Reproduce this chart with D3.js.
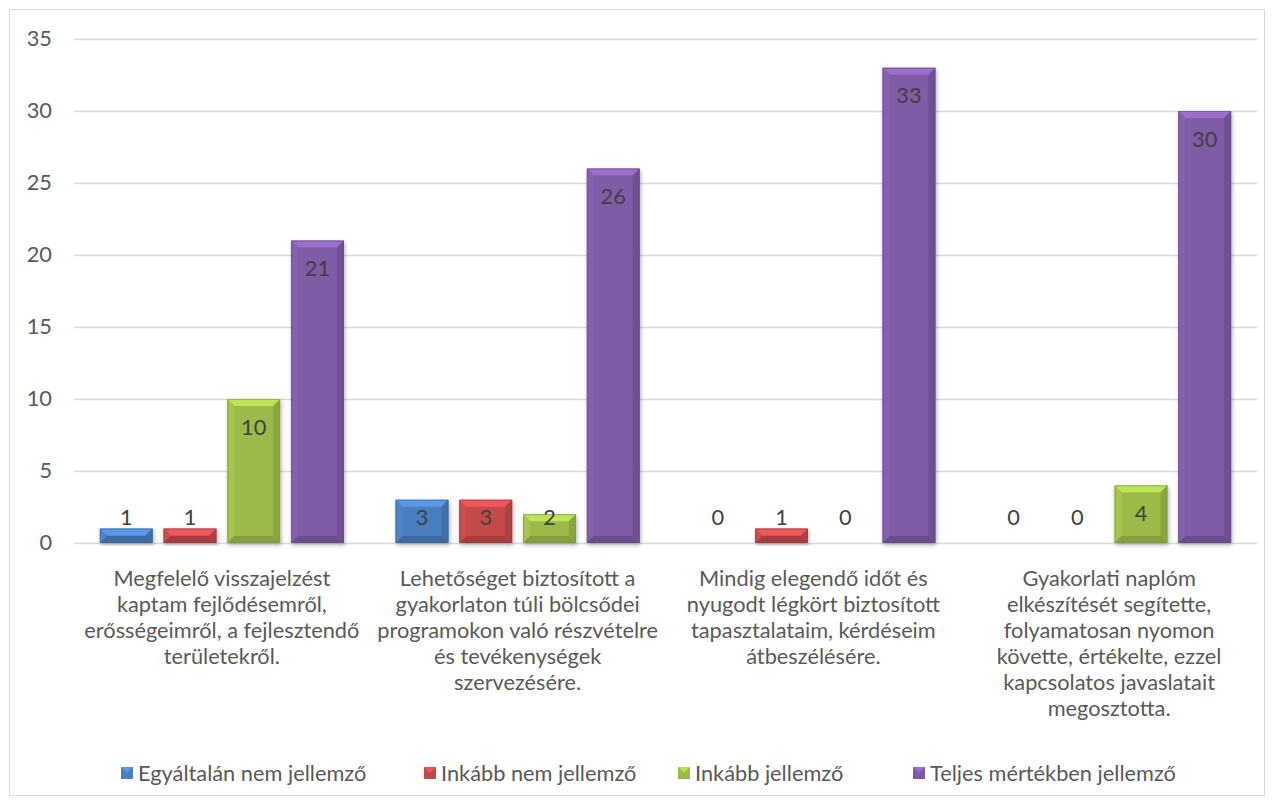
<!DOCTYPE html>
<html><head><meta charset="utf-8">
<script src="https://cdn.jsdelivr.net/npm/d3@7"></script>
<style>body{margin:0;background:#fff}svg{display:block}text{font-family:Lato,"Noto Sans",sans-serif}</style>
</head><body><svg id="c" width="1274" height="805"></svg>
<script>
const categories = [
  ["Megfelelő visszajelzést","kaptam fejlődésemről,","erősségeimről, a fejlesztendő","területekről."],
  ["Lehetőséget biztosított a","gyakorlaton túli bölcsődei","programokon való részvételre","és tevékenységek","szervezésére."],
  ["Mindig elegendő időt és","nyugodt légkört biztosított","tapasztalataim, kérdéseim","átbeszélésére."],
  ["Gyakorlati naplóm","elkészítését segítette,","folyamatosan nyomon","követte, értékelte, ezzel","kapcsolatos javaslatait","megosztotta."]
];
const seriesNames = ["Egyáltalán nem jellemző","Inkább nem jellemző","Inkább jellemző","Teljes mértékben jellemző"];
const egyaltalan = [1,3,0,0];
const inkabbNem = [1,3,1,0];
const inkabb = [10,2,0,4];
const teljes = [21,26,33,30];
const yTicks = [0,5,10,15,20,25,30,35];
const colors = ["#4a7ebf","#c4494a","#9bbb48","#7e5ba6"];

const values = [egyaltalan, inkabbNem, inkabb, teljes];
const svg = d3.select("#c");

// fit font size so text width matches reference proportions
const probe = svg.append("text").attr("font-size",20).text("Megfelelő visszajelzést");
const fs = Math.min(23, 20*217/probe.node().getComputedTextLength());
probe.remove();

const defs = svg.append("defs");
defs.append("filter").attr("id","sh").attr("x","-20%").attr("y","-20%").attr("width","140%").attr("height","140%")
  .append("feDropShadow").attr("dx",1).attr("dy",2).attr("stdDeviation",2).attr("flood-color","#000").attr("flood-opacity",0.3);

svg.append("rect").attr("x",9.5).attr("y",9.5).attr("width",1255).attr("height",786)
  .attr("fill","#fff").attr("stroke","#d9d9d9");

const x0 = d3.scaleBand().domain(d3.range(categories.length)).range([74,1257]).paddingInner(0).paddingOuter(0);
const x1 = d3.scaleBand().domain(d3.range(seriesNames.length)).range([0,x0.bandwidth()]).paddingInner(0.172).paddingOuter(0.406);
const y = d3.scaleLinear().domain([0,35]).range([543,39]);

// gridlines
svg.append("g").selectAll("line").data(yTicks).join("line")
  .attr("x1",74).attr("x2",1257).attr("y1",d=>Math.round(y(d))+0.5).attr("y2",d=>Math.round(y(d))+0.5)
  .attr("stroke","#d9d9d9").attr("stroke-width",1.5);
const yAxis = d3.axisLeft(y).tickValues(yTicks).tickSize(0).tickPadding(0);
const gy = svg.append("g").attr("transform","translate(52,0)").call(yAxis);
gy.select(".domain").remove();
gy.selectAll("text").attr("font-size",fs).attr("fill","#595959").attr("font-family","Lato,sans-serif");

function shade(c,k){return d3.color(c).brighter(k).formatHex();}
function dark(c,k){return d3.color(c).darker(k).formatHex();}

// bars
const bw = x1.bandwidth();
values.forEach((arr,si)=>{
  const g = svg.append("g");
  arr.forEach((v,ci)=>{
    const bx = x0(ci)+x1(si), top = y(v), base = y(0), h = base-top;
    const lbl = Math.min(top+28, base-26);
    if (v>0){
      const bg = g.append("g").attr("filter","url(#sh)");
      bg.append("rect").attr("x",bx).attr("y",top).attr("width",bw).attr("height",h).attr("fill",colors[si]);
      const e = Math.min(7, h/2);
      bg.append("polygon").attr("points",[[bx,top],[bx+bw,top],[bx+bw-e,top+e],[bx+e,top+e]].join(" ")).attr("fill",shade(colors[si],0.55));
      bg.append("polygon").attr("points",[[bx,top],[bx+e,top+e],[bx+e,base-e],[bx,base]].join(" ")).attr("fill",shade(colors[si],0.15));
      bg.append("polygon").attr("points",[[bx+bw,top],[bx+bw,base],[bx+bw-e,base-e],[bx+bw-e,top+e]].join(" ")).attr("fill",dark(colors[si],0.35));
      bg.append("polygon").attr("points",[[bx,base],[bx+e,base-e],[bx+bw-e,base-e],[bx+bw,base]].join(" ")).attr("fill",dark(colors[si],0.45));
      bg.append("rect").attr("x",bx+0.5).attr("y",top+0.5).attr("width",bw-1).attr("height",Math.max(0,h-1)).attr("fill","none").attr("stroke",dark(colors[si],0.6)).attr("stroke-width",1).attr("opacity",0.6);
    }
    g.append("text").attr("x",bx+bw/2).attr("y",lbl).attr("dy","0.35em").attr("text-anchor","middle")
      .attr("font-size",fs).attr("fill","#404040").text(v);
  });
});

// category labels
const gx = svg.append("g");
categories.forEach((lines,ci)=>{
  const cx = x0(ci)+x0.bandwidth()/2;
  const t = gx.append("text").attr("text-anchor","middle").attr("font-size",fs).attr("fill","#595959");
  lines.forEach((ln,i)=>{
    t.append("tspan").attr("x",cx).attr("y",578+i*26).attr("dy","0.35em").text(ln);
  });
});

// legend
const leg = svg.append("g");
const legX = [121,424,678,913];
seriesNames.forEach((n,i)=>{
  const lx = legX[i];
  leg.append("rect").attr("x",lx).attr("y",767).attr("width",12).attr("height",12).attr("fill",colors[i]);
  leg.append("polygon").attr("points",[[lx,767],[lx+12,767],[lx+6,773]].join(" ")).attr("fill",shade(colors[i],0.5));
  leg.append("text").attr("x",lx+17).attr("y",773).attr("dy","0.35em").attr("font-size",fs).attr("fill","#595959").text(n);
});
</script></body></html>
